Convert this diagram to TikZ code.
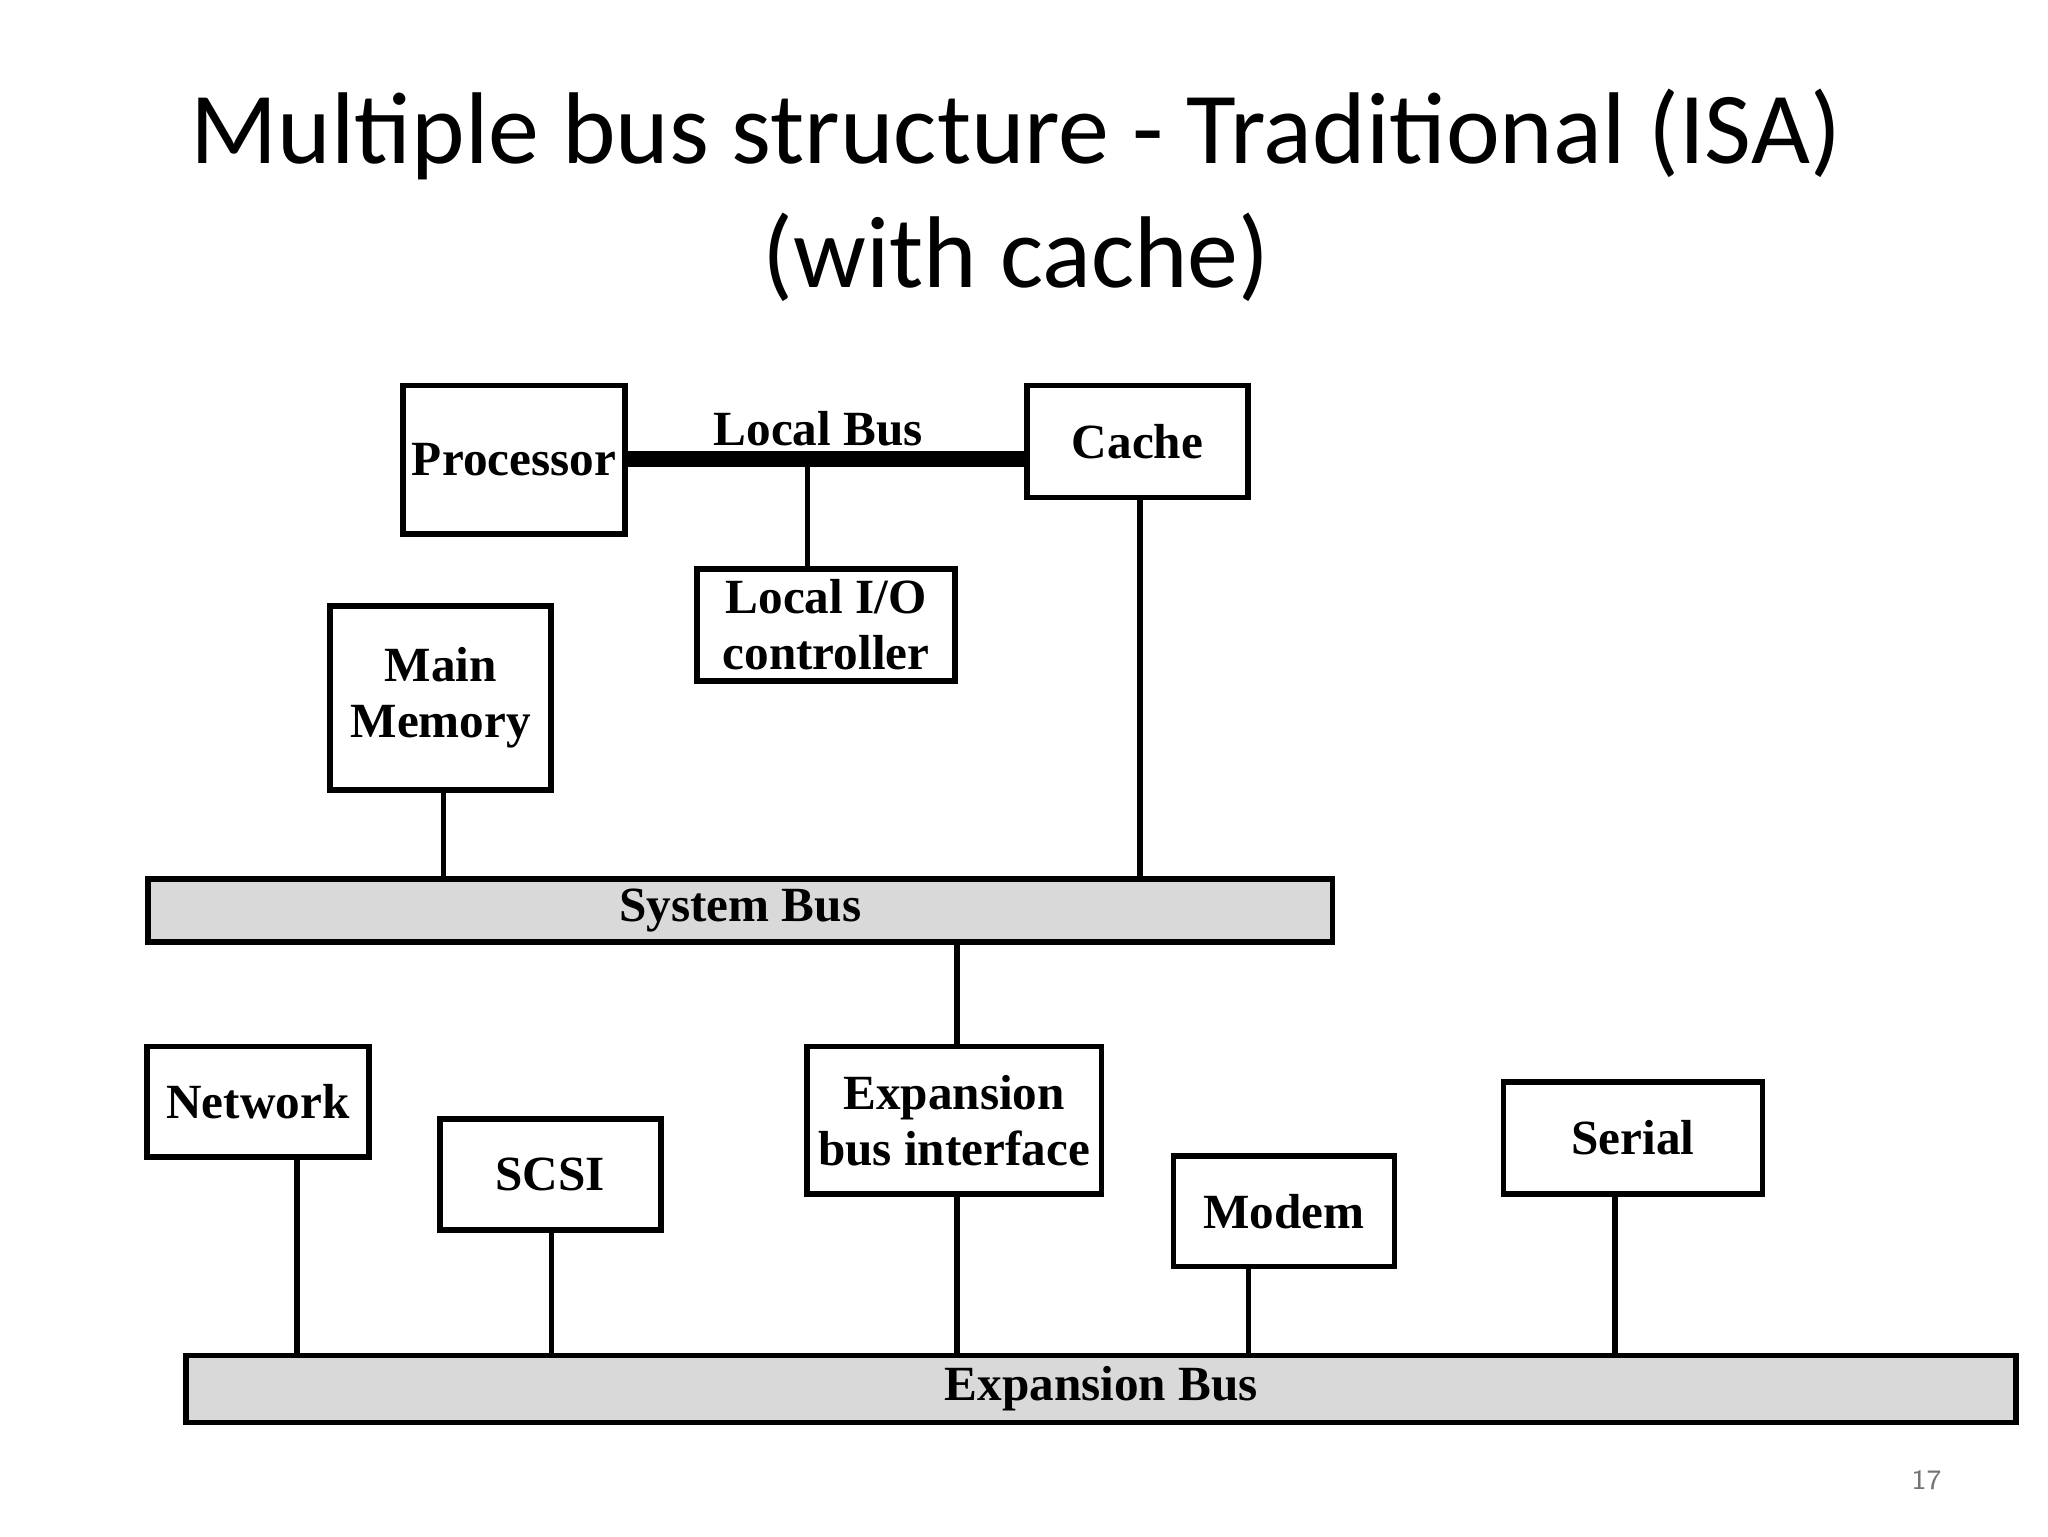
\documentclass[tikz,border=0pt]{standalone}
\usepackage{fontspec}
\setmainfont{Liberation Serif}
\newfontfamily\titlefont{Carlito}
\def\pxu{0.3744pt}
\begin{document}
\begin{tikzpicture}[x=0.013196cm,y=-0.013196cm,
  box/.style={draw,line width=1.6pt,inner sep=0pt,font=\fontsize{14}{16}\selectfont\bfseries,align=center},
  bus/.style={draw,line width=1.6pt,fill=black!15,inner sep=0pt,font=\fontsize{14}{16}\selectfont\bfseries},
  wire/.style={line width=1.6pt}]
\useasboundingbox (0,0) rectangle (1552,1164);
\node[font=\titlefont\fontsize{29}{35}\selectfont] (t1) at (770,102) {Multiple bus structure - Traditional (ISA)};
\node[font=\titlefont\fontsize{29}{35}\selectfont] (t2) at (770,195) {(with cache)};
\node[box,minimum width=169*\pxu,minimum height=113*\pxu] (proc) at (389.5,348.5) {Processor};
\node[box,minimum width=168*\pxu,minimum height=85*\pxu] (cache) at (862,334.5) {Cache};
\node[box,minimum width=196*\pxu,minimum height=85*\pxu] (lio) at (626,473.5) {Local I/O\\controller};
\node[box,minimum width=168*\pxu,minimum height=140*\pxu] (mem) at (334,529) {Main\\Memory};
\node[bus,minimum width=900*\pxu,minimum height=48*\pxu] (sys) at (561,690) {System Bus};
\node[box,minimum width=224*\pxu,minimum height=112*\pxu] (ebi) at (723,849) {Expansion\\bus interface};
\node[box,minimum width=169*\pxu,minimum height=84*\pxu] (net) at (195.5,835) {Network};
\node[box,minimum width=168*\pxu,minimum height=84*\pxu] (scsi) at (417,890) {SCSI};
\node[box,minimum width=168*\pxu,minimum height=84*\pxu] (modem) at (973,918) {Modem};
\node[box,minimum width=197*\pxu,minimum height=85*\pxu] (serial) at (1237.5,862.5) {Serial};
\node[bus,minimum width=1391*\pxu,minimum height=51*\pxu] (exp) at (834.5,1052.5) {Expansion Bus};
\node[font=\fontsize{14}{16}\selectfont\bfseries] (lb) at (620,325) {Local Bus};
\node[font=\sffamily\fontsize{8}{9}\selectfont,text=black!55] (pg) at (1460,1122) {17};
\draw[line width=4.5pt] (proc.east |- 0,348) -- (cache.west |- 0,348);
\coordinate (lbj) at (612,348);
\draw[wire] (lbj) -- (lbj |- lio.north);
\draw[wire] (cache.south -| 864,0) -- (864,0 |- sys.north);
\draw[wire] (mem.south -| 336,0) -- (336,0 |- sys.north);
\draw[wire] (sys.south -| 725,0) -- (725,0 |- ebi.north);
\draw[wire] (ebi.south -| 725,0) -- (725,0 |- exp.north);
\draw[wire] (net.south -| 225,0) -- (225,0 |- exp.north);
\draw[wire] (scsi.south -| 418,0) -- (418,0 |- exp.north);
\draw[wire] (modem.south -| 946,0) -- (946,0 |- exp.north);
\draw[wire] (serial.south -| 1224,0) -- (1224,0 |- exp.north);
\end{tikzpicture}
\end{document}
